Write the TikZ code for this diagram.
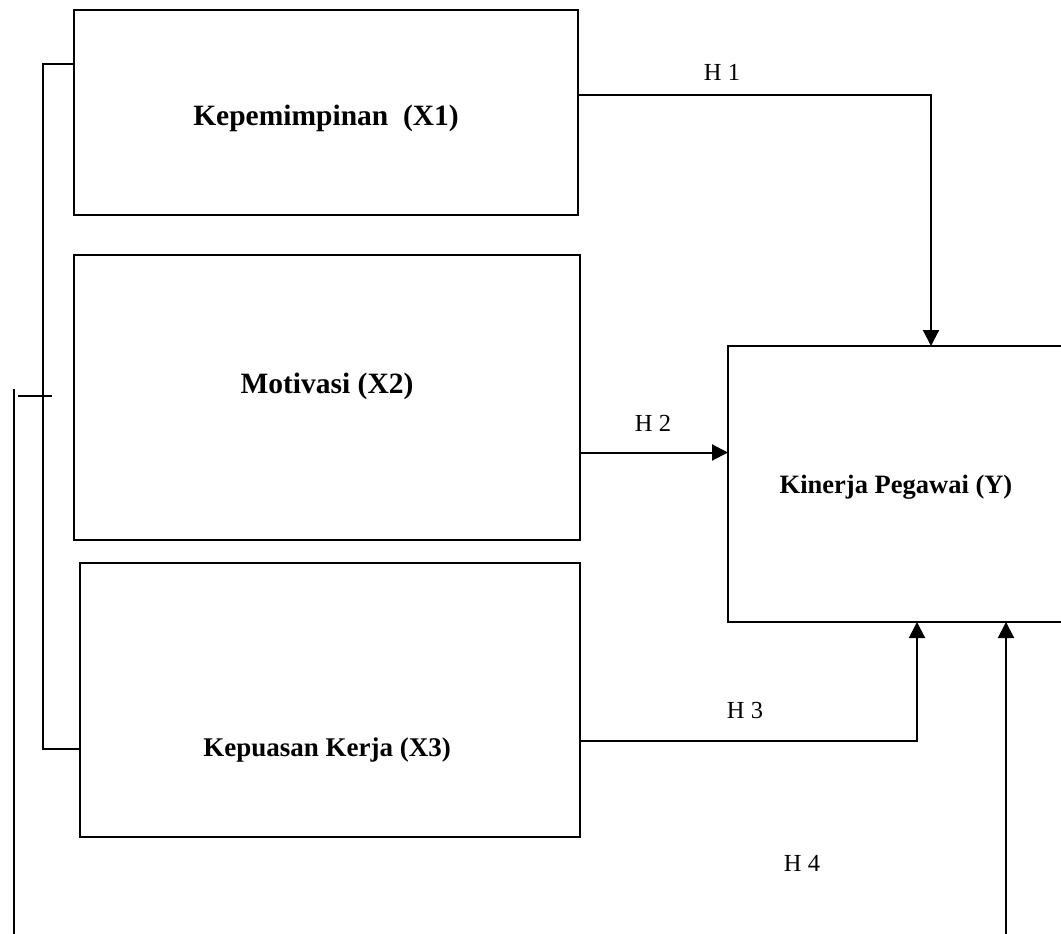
\documentclass[tikz,border=0pt]{standalone}
\usepackage{fontspec}
\setmainfont{Liberation Serif}
\usetikzlibrary{arrows.meta}
\begin{document}
\begin{tikzpicture}[x=1pt,y=-1pt,line width=2pt,
  box/.style={draw,inner sep=0pt,outer sep=0pt},
  lbl/.style={font=\fontsize{29.5}{34}\selectfont\bfseries,inner sep=0pt},
  lblb/.style={font=\fontsize{27}{32}\selectfont\bfseries,inner sep=0pt},
  ylbl/.style={font=\fontsize{26.5}{30}\selectfont\bfseries,inner sep=0pt},
  hlbl/.style={font=\fontsize{24.5}{28}\selectfont,inner sep=0pt},
  arr/.style={-{Triangle[length=16pt,width=16pt]}}]
\useasboundingbox (0,0) rectangle (1061,934);
\clip (0,0) rectangle (1061,934);
\node[box,minimum width=504pt,minimum height=205pt] (x1) at (326,112.5) {};
\node[box,minimum width=506pt,minimum height=285pt] (x2) at (327,397.5) {};
\node[box,minimum width=500pt,minimum height=274pt] (x3) at (330,700) {};
\node[box,minimum width=352pt,minimum height=276pt] (y) at (904,484) {};
\node[lbl] (t1) at (326,118) {Kepemimpinan\ \ (X1)};
\node[lbl] (t2) at (327,386) {Motivasi (X2)};
\node[lblb] (t3) at (327,750) {Kepuasan Kerja (X3)};
\node[ylbl] (ty) at (896,487) {Kinerja Pegawai (Y)};
\node[hlbl] (h1) at (722,72) {H 1};
\node[hlbl] (h2) at (653,423) {H 2};
\node[hlbl] (h3) at (745,711) {H 3};
\node[hlbl] (h4) at (802,863) {H 4};
\draw[arr] ([yshift=17.5pt]x1.east) -| ([xshift=27pt]y.north);
\draw[arr] ([yshift=-55pt]x2.east) -- ([yshift=-55pt]x2.east -| y.west);
\draw[arr] ([yshift=-41pt]x3.east) -| ([xshift=13pt]y.south);
\coordinate (h4s) at (1006,934);
\draw[arr] (h4s) -- (h4s |- y.south);
\draw ([yshift=48.5pt]x1.west) -- ++(-31pt,0) |- ([yshift=-49pt]x3.west);
\coordinate (tl) at (18,396);
\coordinate (tr) at (52,396);
\draw (tl) -- (tr);
\coordinate (ot) at (14,389);
\coordinate (ob) at (14,934);
\draw (ot) -- (ob);
\end{tikzpicture}
\end{document}
